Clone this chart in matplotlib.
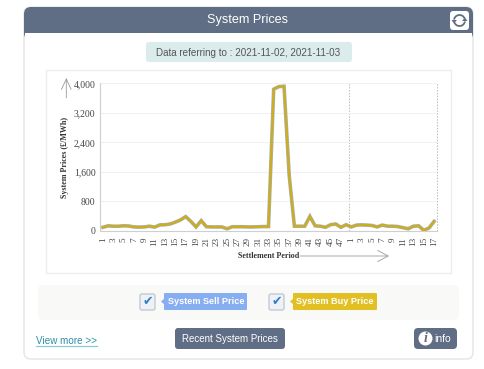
import matplotlib
matplotlib.use("Agg")
import matplotlib.pyplot as plt
from matplotlib.patches import FancyBboxPatch, Rectangle, Circle, Arc, Polygon

W, H = 485, 369

# settlement periods of both days
periods = list(range(1, 49)) + list(range(1, 18))
buy_price = [100, 140, 130, 130, 140, 135, 110, 105, 110, 130, 105, 165, 170, 190, 240, 300,
             390, 260, 110, 280, 115, 110, 110, 110, 60, 115, 115, 115, 110, 110, 115, 120,
             120, 3840, 3910, 3920, 1500, 130, 130, 130, 395, 140, 130, 100, 170, 190, 100, 170,
             110, 160, 165, 160, 150, 110, 160, 130, 130, 120, 90, 60, 130, 140, 20, 80, 260]
sell_price = list(buy_price)
y_ticks = [0, 800, 1600, 2400, 3200, 4000]
y_labels = ["0", "800", "1,600", "2,400", "3,200", "4,000"]

SLATE = "#5f6e85"
UI_FONT = "Liberation Sans"
SERIF = "Liberation Serif"


def box(ax, x0, y0, x1, y1, fc, ec="none", r=3, lw=1, z=1):
    p = FancyBboxPatch((x0 + r, y0 + r), x1 - x0 - 2 * r, y1 - y0 - 2 * r,
                       boxstyle=f"round,pad={r},rounding_size={r}",
                       fc=fc, ec=ec, lw=lw, zorder=z)
    ax.add_patch(p)


fig = plt.figure(figsize=(W / 100, H / 100), dpi=100, facecolor="white")

# page layer, in pixels
bg = fig.add_axes([0, 0, 1, 1])
bg.set_xlim(0, W)
bg.set_ylim(H, 0)
bg.axis("off")

# panel and header
box(bg, 24, 7, 473, 359, "white", "#e4e4e4", r=7, lw=1)
box(bg, 24, 7, 473, 40, SLATE, r=7, z=2)
bg.add_patch(Rectangle((24, 22), 449, 11, fc=SLATE, ec="none", zorder=2))
bg.add_patch(Rectangle((25, 33), 447, 9, fc="white", ec="none", zorder=2))
bg.text(248, 20, "System Prices", color="white", fontsize=9.1, family=UI_FONT,
        ha="center", va="center", zorder=3)

# refresh button
box(bg, 450, 11, 469, 30, "white", r=3, z=3)
bg.add_patch(Arc((459.5, 20.5), 11, 11, theta1=190, theta2=340, color=SLATE, lw=1.3, zorder=4))
bg.add_patch(Arc((459.5, 20.5), 11, 11, theta1=10, theta2=160, color=SLATE, lw=1.3, zorder=4))
bg.add_patch(Polygon([(451.5, 20), (457, 20), (454, 23.5)], fc=SLATE, ec="none", zorder=4))
bg.add_patch(Polygon([(462, 21), (467.5, 21), (465, 17.5)], fc=SLATE, ec="none", zorder=4))

# date pill
box(bg, 146, 42, 352, 62, "#dbecec", r=3)
bg.text(248.5, 52.5, "Data referring to : 2021-11-02, 2021-11-03", color="#555555",
        fontsize=7.15, family=UI_FONT, ha="center", va="center", zorder=3)

# chart frame
bg.add_patch(Rectangle((46, 70), 405, 203, fc="white", ec="#eeeeee", lw=1))

# axis arrows
bg.annotate("", xy=(66.3, 78), xytext=(66.3, 98), zorder=3,
            arrowprops=dict(arrowstyle="->,head_length=0.75,head_width=0.35", color="#999999", lw=0.6,
                            shrinkA=0, shrinkB=0))
bg.annotate("", xy=(389, 256), xytext=(300, 256), zorder=3,
            arrowprops=dict(arrowstyle="->,head_length=0.75,head_width=0.4", color="#999999", lw=0.6,
                            shrinkA=0, shrinkB=0))

# legend strip
box(bg, 38, 285, 459, 320, "#f9f9f8", r=5)
for x0, x1, tx, color, label in [(164, 247, 206, "#86aef0", "System Sell Price"),
                                 (293, 377, 334.6, "#e2c024", "System Buy Price")]:
    box(bg, x0, 293, x1, 310, color, r=1, z=3)
    bg.add_patch(Polygon([(x0 - 3, 301.5), (x0 + 1, 298), (x0 + 1, 305)], fc=color, ec="none", zorder=3))
    bg.text(tx, 301.8, label, color="white", fontsize=6.55, fontweight="bold", family=UI_FONT,
            ha="center", va="center", zorder=4)
    cx = x0 - 24
    box(bg, cx, 294, cx + 15, 310, "#eef1f6", "#c4c9d2", r=2, z=3)
    bg.text(cx + 7.5, 301.5, "\u2714", color="#2f80c8", fontsize=9, family="DejaVu Sans",
            ha="center", va="center", zorder=4)

# bottom row
bg.text(36, 340.5, "View more >>", color="#2a8fa8", fontsize=7.1, family=UI_FONT,
        ha="left", va="center", zorder=3)
bg.plot([36, 97], [345.5, 345.5], color="#8cc9d6", lw=0.9, zorder=3)
box(bg, 175, 328, 285, 349, SLATE, r=3, z=3)
bg.text(230, 338.5, "Recent System Prices", color="white", fontsize=7.05, family=UI_FONT,
        ha="center", va="center", zorder=4)
box(bg, 414, 328, 457, 349, SLATE, r=4, z=3)
bg.add_patch(Circle((425.5, 338.5), 7, fc="white", ec="none", zorder=4))
bg.text(425.5, 338.5, "i", color=SLATE, fontsize=10, family=SERIF, fontweight="bold", style="italic",
        ha="center", va="center", zorder=5)
bg.text(434, 339, "info", color="white", fontsize=7.5, family=UI_FONT, ha="left", va="center", zorder=4)

# chart itself
ax = fig.add_axes([100.3 / W, 1 - 231 / H, 336.4 / W, 147.7 / H], facecolor="none")
xs = list(range(len(periods)))
ax.plot(xs, sell_price, color="#a9b0ba", lw=2.6, solid_joinstyle="miter", zorder=3)
ax.plot(xs, buy_price, color="#ccad1f", lw=1.7, solid_joinstyle="miter", zorder=4)

ax.set_xlim(-0.5, len(periods) - 0.5)
ax.set_ylim(0, 4000)
ax.set_yticks(y_ticks, y_labels, fontsize=6.9, family=SERIF, color="#444444")
ax.set_xticks(xs[::2], [str(p) for p in periods[::2]], rotation=90, fontsize=6.6,
              family=SERIF, color="#444444")
ax.tick_params(length=0, pad=3.5)
ax.tick_params(axis="x", pad=4.5)
ax.grid(axis="y", color="#f1f1f1", lw=0.8, zorder=0)
for x in [47.5, len(periods) - 0.5]:
    ax.axvline(x, color="#bbbbbb", lw=0.7, ls=(0, (1.5, 1.5)), zorder=1, clip_on=False)
for s in ["top", "right"]:
    ax.spines[s].set_visible(False)
for s in ["left", "bottom"]:
    ax.spines[s].set_color("#cfcfcf")
    ax.spines[s].set_linewidth(0.8)

bg.text(65.5, 157, "System Prices (£/MWh)", rotation=90, fontsize=5.8, fontweight="bold", family=SERIF,
        color="#333333", ha="center", va="center", zorder=3)
bg.text(269, 256, "Settlement Period", fontsize=5.8, fontweight="bold", family=SERIF,
        color="#333333", ha="center", va="center", zorder=3)

fig.savefig("out.png", dpi=100)
